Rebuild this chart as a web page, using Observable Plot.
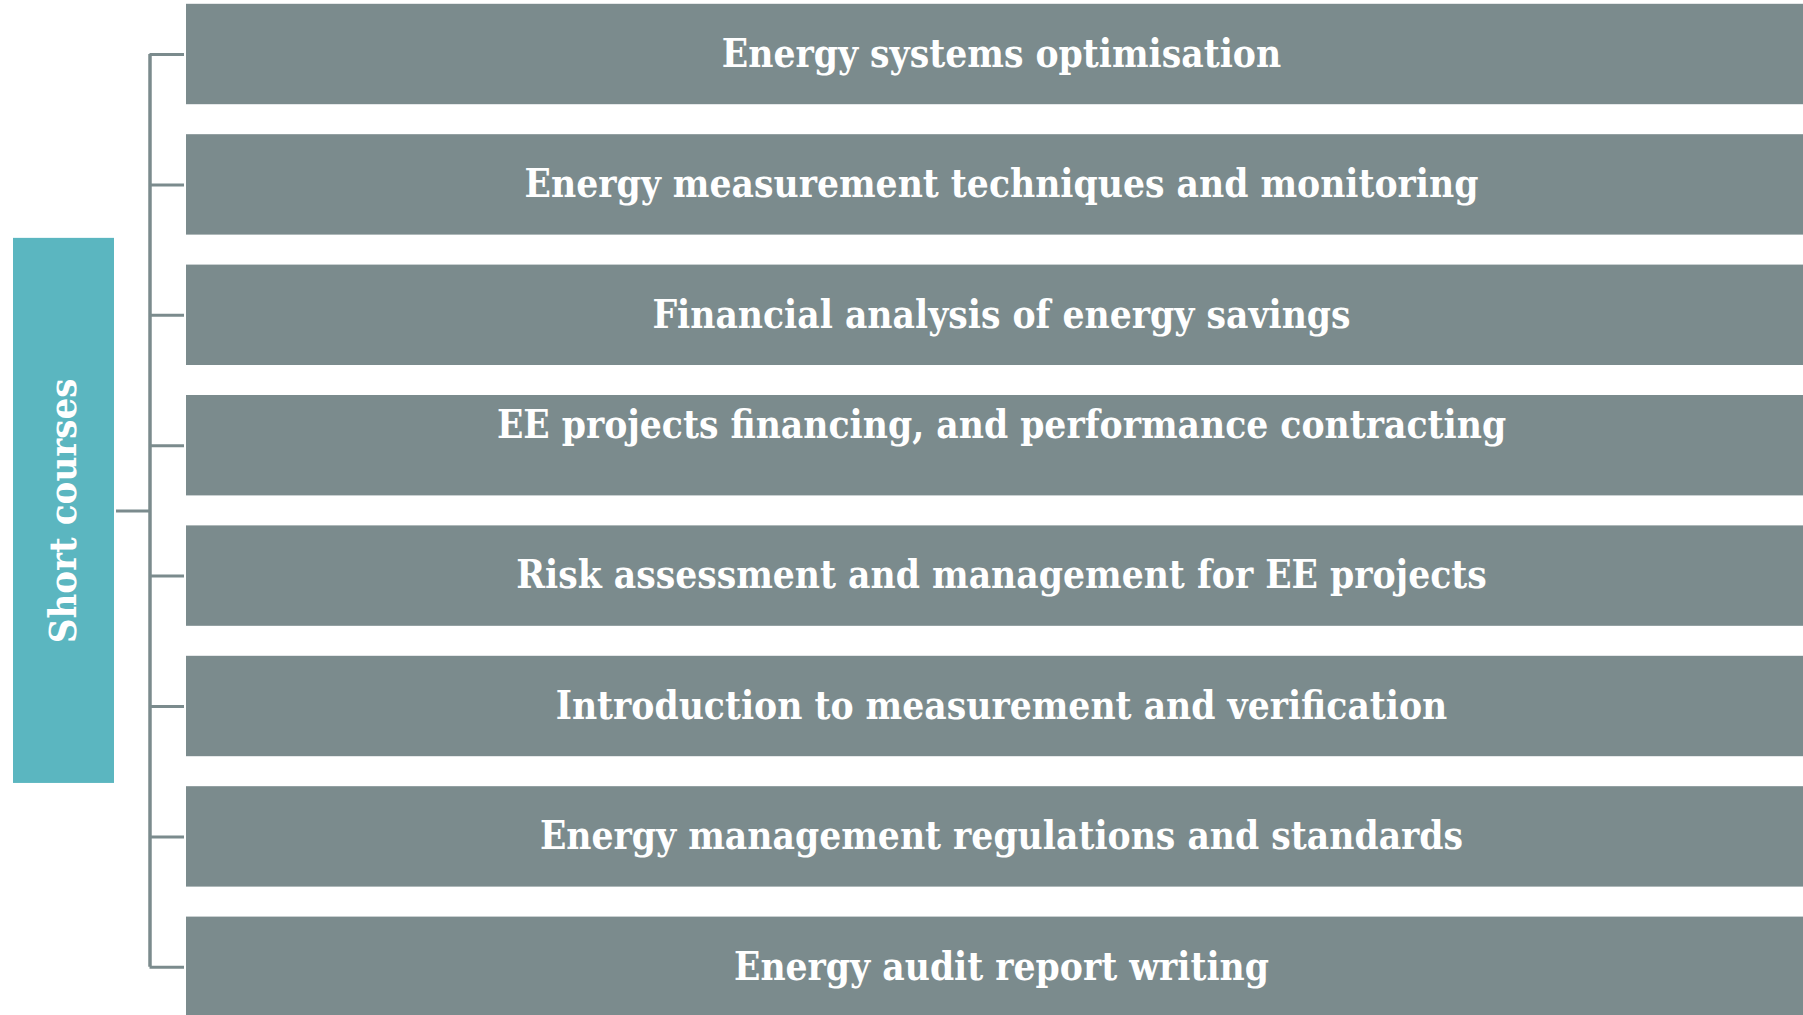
<!DOCTYPE html>
<html>
<head>
<meta charset="utf-8">
<script src="https://cdn.jsdelivr.net/npm/d3@7"></script>
<script src="https://cdn.jsdelivr.net/npm/@observablehq/plot@0.6"></script>
<style>
  html, body { margin: 0; padding: 0; background: #ffffff; overflow: hidden; }
  #chart svg { display: block; }
</style>
</head>
<body>
<div id="chart"></div>
<script>
// ---- data ----
const groupLabel = "Short courses";
const courses = [
  "Energy systems optimisation",
  "Energy measurement techniques and monitoring",
  "Financial analysis of energy savings",
  "EE projects financing, and performance contracting",
  "Risk assessment and management for EE projects",
  "Introduction to measurement and verification",
  "Energy management regulations and standards",
  "Energy audit report writing"
];

// ---- layout / style (not data) ----
const W = 1803, H = 1015;
const L = {
  boxLeft: 186, boxRight: 1820, textX: 1001,
  trunkX: 149.5, tickX2: 184,
  groupX1: 13, groupX2: 114, groupLinkX1: 116,
  boxHalf: 0.385, groupHalf: 2.09
};
const gray = "#7b8b8d", teal = "#5bb6c0";
const font = "'DejaVu Serif Condensed', 'DejaVu Serif', serif";

const rows = courses.map((name, i) => ({name, i}));
const mid = (courses.length - 1) / 2;

const chart = Plot.plot({
  width: W, height: H,
  margin: 0,
  style: {background: "#ffffff", overflow: "hidden"},
  x: {domain: [0, W], range: [0, W], axis: null},
  y: {domain: [0, courses.length - 1], range: [54, 966.8], axis: null},
  marks: [
    // course boxes
    Plot.rect(rows, {x1: L.boxLeft, x2: L.boxRight, y1: d => d.i - L.boxHalf, y2: d => d.i + L.boxHalf, fill: gray}),
    // course labels
    Plot.text(rows, {
      x: L.textX, y: "i", text: "name",
      fill: "white", fontSize: 38.5, fontWeight: "bold", fontFamily: font,
      textAnchor: "middle", lineAnchor: "middle"
    }),
    // tree trunk
    Plot.ruleX([L.trunkX], {y1: 0, y2: courses.length - 1, stroke: gray, strokeWidth: 3.5}),
    // branches
    Plot.ruleY(rows, {y: "i", x1: L.trunkX, x2: L.tickX2, stroke: gray, strokeWidth: 3}),
    // link from group box
    Plot.ruleY([mid], {x1: L.groupLinkX1, x2: L.trunkX, stroke: gray, strokeWidth: 3}),
    // group box
    Plot.rect([groupLabel], {x1: L.groupX1, x2: L.groupX2, y1: mid - L.groupHalf, y2: mid + L.groupHalf, fill: teal}),
    Plot.text([groupLabel], {
      x: (L.groupX1 + L.groupX2) / 2, y: mid, text: d => d, rotate: -90,
      fill: "white", fontSize: 38, fontWeight: "bold", fontFamily: font,
      textAnchor: "middle", lineAnchor: "middle"
    })
  ]
});

// the 4th label sits higher in its box in the original
d3.select(chart).selectAll("text").filter(function() {
  return this.textContent === courses[3];
}).attr("transform", function() {
  const t = d3.select(this).attr("transform") || "";
  return t + " translate(0,-20)";
});

document.getElementById("chart").appendChild(chart);
</script>
</body>
</html>
